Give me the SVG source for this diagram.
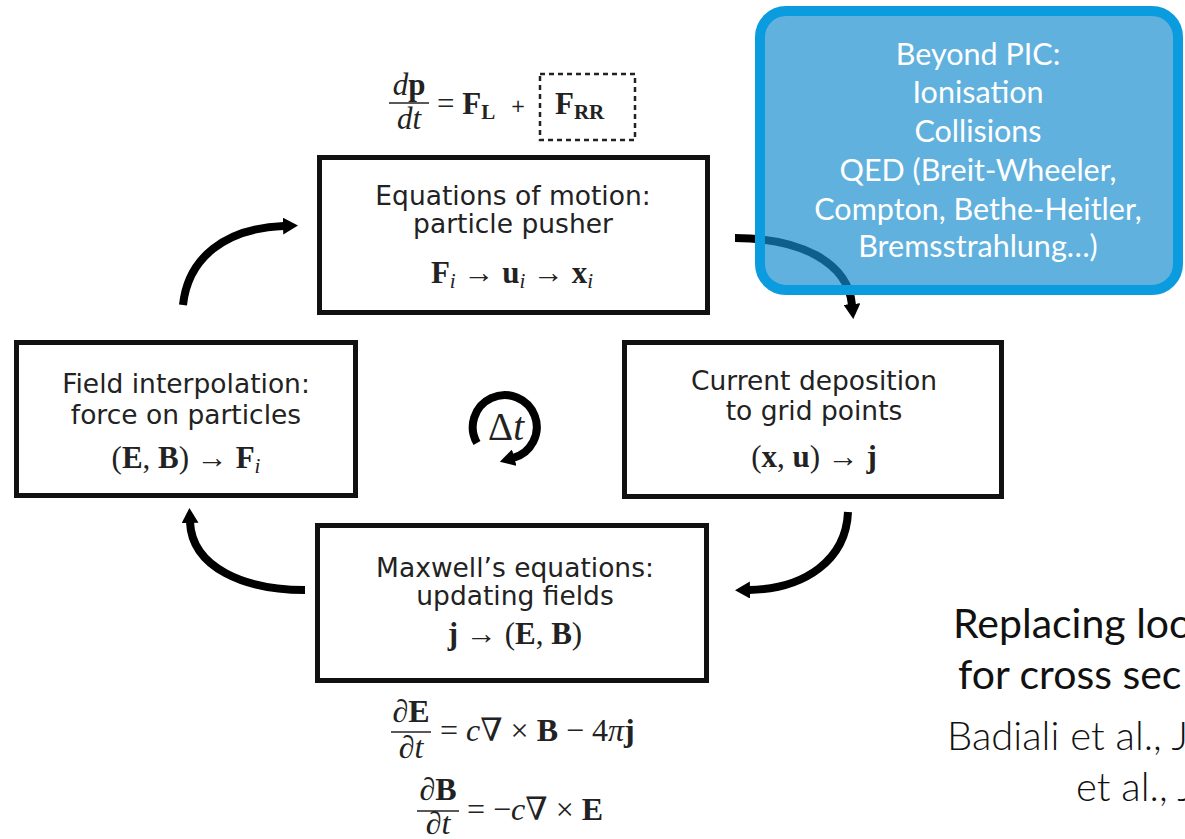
<svg xmlns="http://www.w3.org/2000/svg" width="1185" height="839" viewBox="0 0 1185 839">
<style>
.box{fill:#fff;stroke:#111;stroke-width:5}
.lbl{font-family:"DejaVu Sans",sans-serif;font-size:26.5px;fill:#222;text-anchor:middle}
.m{font-family:"Liberation Serif","DejaVu Serif",serif;font-size:31px;fill:#222}
.m2{font-family:"Liberation Serif","DejaVu Serif",serif;font-size:32px;fill:#222}
.b{font-weight:bold}
.it{font-style:italic}
.sub{font-size:21px}
.arr{fill:none;stroke:#000;stroke-width:8}
.blue{font-family:Lato,"Open Sans",sans-serif;font-size:30.5px;fill:#fff;text-anchor:middle}
.note{font-family:Lato,"Open Sans",sans-serif;font-size:41px;fill:#111}
.light{font-weight:300;font-size:40px}
</style>
<defs>
<marker id="ah" markerUnits="userSpaceOnUse" markerWidth="15" markerHeight="17" refX="1" refY="8.5" orient="auto">
<path d="M0,0 L15,8.5 L0,17 z" fill="#000"/>
</marker>
</defs>
<rect width="1185" height="839" fill="#fff"/>

<g id="connectors">
<path class="arr" d="M183,305 C188,258 225,228 284,226" marker-end="url(#ah)"/>
<path class="arr" d="M735,238 C800,238 848,262 852,305" marker-end="url(#ah)"/>
<path class="arr" d="M848,512 C846,560 805,589 749,590" marker-end="url(#ah)"/>
<path class="arr" d="M305,590 C245,590 192,568 190,522" marker-end="url(#ah)"/>
</g>

<g id="eq-top">
<text class="m" x="409" y="95" text-anchor="middle"><tspan class="it">d</tspan><tspan class="b">p</tspan></text>
<line x1="389" y1="103" x2="429" y2="103" stroke="#222" stroke-width="1.6"/>
<text class="m it" x="409" y="129" text-anchor="middle">dt</text>
<text class="m" x="437" y="114">= <tspan class="b">F</tspan><tspan class="sub b" dy="5">L</tspan></text>
<text x="518" y="112" font-family="'DejaVu Sans',sans-serif" font-size="18" fill="#222" text-anchor="middle">+</text>
<rect x="540" y="74" width="95" height="66" fill="none" stroke="#222" stroke-width="2.5" stroke-dasharray="5,4"/>
<text class="m" x="555" y="114"><tspan class="b">F</tspan><tspan class="sub b" dy="5">RR</tspan></text>
</g>

<g id="node-motion">
<rect class="box" x="319.5" y="157.5" width="388" height="155"/>
<text class="lbl" x="513" y="205">Equations of motion:</text>
<text class="lbl" x="513" y="233">particle pusher</text>
<text class="m" x="512" y="283" text-anchor="middle"><tspan class="b">F</tspan><tspan class="sub it" dy="5">i</tspan><tspan dy="-5"> → </tspan><tspan class="b">u</tspan><tspan class="sub it" dy="5">i</tspan><tspan dy="-5"> → </tspan><tspan class="b">x</tspan><tspan class="sub it" dy="5">i</tspan></text>
</g>

<g id="node-interp">
<rect class="box" x="16.5" y="342.5" width="339" height="153"/>
<text class="lbl" x="186" y="393">Field interpolation:</text>
<text class="lbl" x="186" y="424">force on particles</text>
<text class="m" x="186" y="468" text-anchor="middle">(<tspan class="b">E</tspan>, <tspan class="b">B</tspan>) → <tspan class="b">F</tspan><tspan class="sub it" dy="5">i</tspan></text>
</g>

<g id="node-dt">
<path d="M477,443 A32,32 0 1 1 513.3,457.9" fill="none" stroke="#000" stroke-width="8" marker-end="url(#ah)"/>
<text x="506" y="440" font-family="'Liberation Serif','DejaVu Serif',serif" font-size="39" fill="#222" text-anchor="middle">Δ<tspan font-style="italic">t</tspan></text>
</g>

<g id="node-deposit">
<rect class="box" x="624.5" y="342.5" width="377" height="154"/>
<text class="lbl" x="814" y="390">Current deposition</text>
<text class="lbl" x="814" y="420">to grid points</text>
<text class="m" x="814" y="467" text-anchor="middle">(<tspan class="b">x</tspan>, <tspan class="b">u</tspan>) → <tspan class="b">j</tspan></text>
</g>

<g id="node-maxwell">
<rect class="box" x="317.5" y="525.5" width="389" height="155"/>
<text class="lbl" x="515" y="577">Maxwell’s equations:</text>
<text class="lbl" x="515" y="605">updating fields</text>
<text class="m" x="515" y="644" text-anchor="middle"><tspan class="b">j</tspan>  → (<tspan class="b">E</tspan>, <tspan class="b">B</tspan>)</text>
</g>

<g id="eq-maxwell">
<text class="m2" x="411" y="722" text-anchor="middle">∂<tspan class="b">E</tspan></text>
<line x1="391" y1="732" x2="431" y2="732" stroke="#222" stroke-width="1.6"/>
<text class="m2" x="411" y="758" text-anchor="middle">∂<tspan class="it">t</tspan></text>
<text class="m2" x="440" y="741">= <tspan class="it">c</tspan>∇ × <tspan class="b">B</tspan> − 4<tspan class="it">π</tspan><tspan class="b">j</tspan></text>
<text class="m2" x="438" y="800" text-anchor="middle">∂<tspan class="b">B</tspan></text>
<line x1="417" y1="811" x2="459" y2="811" stroke="#222" stroke-width="1.6"/>
<text class="m2" x="438" y="834" text-anchor="middle">∂<tspan class="it">t</tspan></text>
<text class="m2" x="467" y="820">= −<tspan class="it">c</tspan>∇ × <tspan class="b">E</tspan></text>
</g>

<g id="node-beyond">
<rect x="760" y="11" width="418" height="279" rx="26" fill="rgb(22,140,206)" fill-opacity="0.68" stroke="#0B9BDF" stroke-width="10"/>
<text class="blue" x="978" y="65">Beyond PIC:</text>
<text class="blue" x="978" y="103">Ionisation</text>
<text class="blue" x="978" y="142">Collisions</text>
<text class="blue" x="978" y="181">QED (Breit-Wheeler,</text>
<text class="blue" x="978" y="220">Compton, Bethe-Heitler,</text>
<text class="blue" x="978" y="257">Bremsstrahlung…)</text>
</g>

<g id="note">
<text class="note" x="953" y="638">Replacing loo</text>
<text class="note" x="958" y="689">for cross sec</text>
<text class="note light" x="947" y="750">Badiali et al., J</text>
<text class="note light" x="1076" y="801">et al., J</text>
</g>
</svg>
